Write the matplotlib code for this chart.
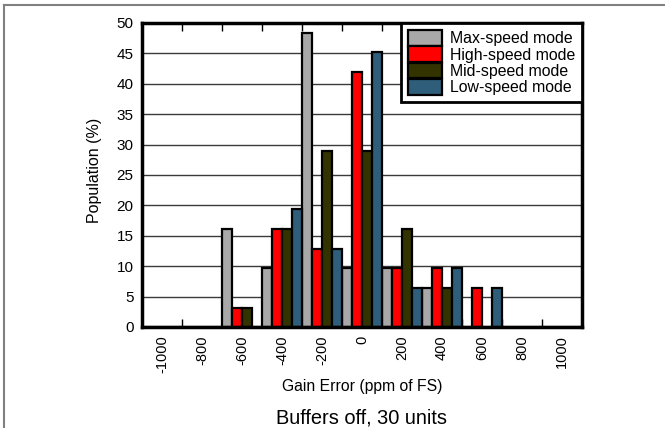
import matplotlib
matplotlib.use("Agg")
import matplotlib.pyplot as plt
import numpy as np
from matplotlib.lines import Line2D

plt.rcParams['font.family'] = ['Liberation Sans', 'DejaVu Sans']

categories = ["-1000", "-800", "-600", "-400", "-200", "0", "200", "400", "600", "800", "1000"]
max_speed = [0, 0, 16.1, 9.7, 48.4, 9.7, 9.7, 6.45, 0, 0, 0]
high_speed = [0, 0, 3.2, 16.1, 12.9, 41.9, 9.7, 9.7, 6.45, 0, 0]
mid_speed = [0, 0, 3.2, 16.1, 29.0, 29.0, 16.1, 6.45, 0, 0, 0]
low_speed = [0, 0, 0, 19.4, 12.9, 45.2, 6.45, 9.7, 6.45, 0, 0]
series_names = ["Max-speed mode", "High-speed mode", "Mid-speed mode", "Low-speed mode"]
series_colors = ["#a8a8a8", "#ff0000", "#333300", "#2e5e7a"]

fig = plt.figure(figsize=(6.65, 4.28), dpi=100)
ax = fig.add_axes([142/665, 1-327/428, 440/665, 304/428])

x = np.arange(len(categories))
w = 0.25
for i, (vals, name, col) in enumerate(zip([max_speed, high_speed, mid_speed, low_speed], series_names, series_colors)):
    ax.bar(x - 0.375 + i*w, vals, width=w, color=col, edgecolor='black', linewidth=1.6,
           label=name, zorder=3)

ax.set_xlim(-0.5, len(categories)-0.5)
ax.set_ylim(0, 50)
ax.set_yticks(np.arange(0, 51, 5))
ax.set_yticklabels([str(v) for v in range(0, 51, 5)], fontsize=11)
for yv in range(5, 50, 5):
    ax.axhline(yv, color='#3a3a3a', linewidth=1.0, zorder=1)

ax.set_xticks(x)
ax.set_xticklabels(categories, rotation=90, fontsize=10.5)
ax.set_xticks(np.arange(0.5, len(categories)-0.5, 1), minor=True)
ax.tick_params(axis='x', which='major', length=0, pad=6)
ax.tick_params(axis='x', which='minor', direction='in', length=6, width=1.0, top=True, bottom=True)
ax.tick_params(axis='y', length=0, pad=6)

for s in ax.spines.values():
    s.set_linewidth(2.5)
    s.set_zorder(5)

leg = ax.legend(loc='upper right', borderaxespad=0, fancybox=False, framealpha=1,
                edgecolor='black', fontsize=11.4, handlelength=2.1, handleheight=1.15,
                labelspacing=0.0, handletextpad=0.5, borderpad=0.45)
leg.get_frame().set_linewidth(2.0)
leg.set_zorder(6)

fig.text(95/665, 1-170/428, "Population (%)", rotation=90, ha='center', va='center', fontsize=11.5)
fig.text(362/665, 1-387/428, "Gain Error (ppm of FS)", ha='center', va='center', fontsize=11.3)
fig.text(361/665, 1-418/428, "Buffers off, 30 units", ha='center', va='center', fontsize=14.4)

# outer frame lines
fig.add_artist(Line2D([3.5/665, 3.5/665], [0, 1-5/428], transform=fig.transFigure, color='#808080', linewidth=1.5))
fig.add_artist(Line2D([3.5/665, 1], [1-5/428, 1-5/428], transform=fig.transFigure, color='#808080', linewidth=1.5))

fig.savefig("out.png", dpi=100)
